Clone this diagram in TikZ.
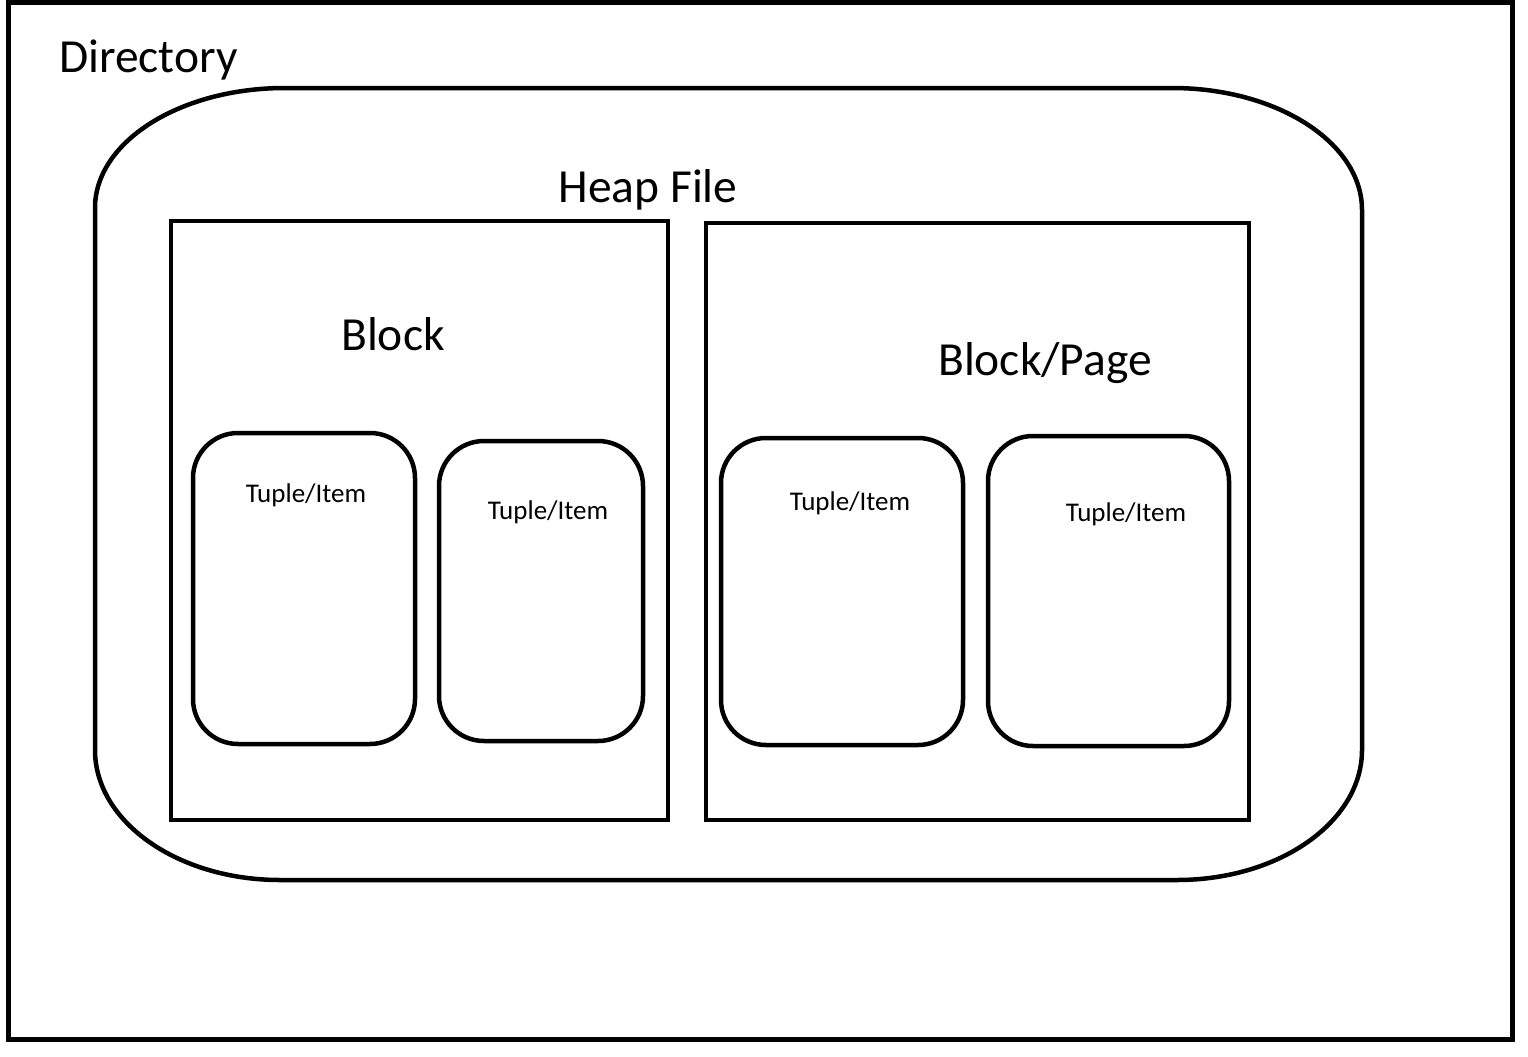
\documentclass[tikz,border=0pt]{standalone}
\usepackage{fontspec}
\setmainfont{Carlito}
\begin{document}
\begin{tikzpicture}[x=1pt,y=-1pt,
  line/.style={draw=black,line width=4.5pt},
  blockbox/.style={line,rectangle,inner sep=0pt,outer sep=0pt},
  tuplebox/.style={line,rectangle,rounded corners=45pt,inner sep=0pt,outer sep=0pt},
  bigtext/.style={inner sep=0pt,font=\fontsize{47.5}{57}\selectfont},
  smalltext/.style={inner sep=0pt,font=\fontsize{27}{32}\selectfont}]
\useasboundingbox (0,0) rectangle (1528,1057);
% directory frame
\node[blockbox,line width=5pt,minimum width=1504pt,minimum height=1036pt] (dir) at (760,521) {};
\node[bigtext,anchor=base west] (dirlabel) at (59,72) {Directory};
% heap file rounded shape
\draw[line] (95,208) arc[start angle=180,end angle=270,x radius=190,y radius=120]
  -- (1172,88) arc[start angle=270,end angle=360,x radius=190,y radius=122]
  -- (1362,750) arc[start angle=0,end angle=90,x radius=185,y radius=130]
  -- (280,880) arc[start angle=90,end angle=180,x radius=185,y radius=130] -- cycle;
\node[bigtext] (heaplabel) at (648,190) {Heap File};
% blocks
\node[blockbox,minimum width=497pt,minimum height=599pt] (b1) at (419.5,520.5) {};
\node[blockbox,minimum width=543pt,minimum height=597pt] (b2) at (977.5,521.5) {};
\node[bigtext] (b1label) at (393,334) {Block};
\node[bigtext] (b2label) at (1045,363) {Block/Page};
% tuples
\node[tuplebox,minimum width=222pt,minimum height=311pt] (t1) at (304,588.5) {};
\node[tuplebox,minimum width=204pt,minimum height=300pt] (t2) at (541,591) {};
\node[tuplebox,minimum width=242pt,minimum height=307pt] (t3) at (842,591.5) {};
\node[tuplebox,minimum width=241pt,minimum height=310pt] (t4) at (1108.5,591) {};
\node[smalltext] (t1label) at (306,495) {Tuple/Item};
\node[smalltext] (t2label) at (548,512) {Tuple/Item};
\node[smalltext] (t3label) at (850,503) {Tuple/Item};
\node[smalltext] (t4label) at (1126,514) {Tuple/Item};
\end{tikzpicture}
\end{document}
